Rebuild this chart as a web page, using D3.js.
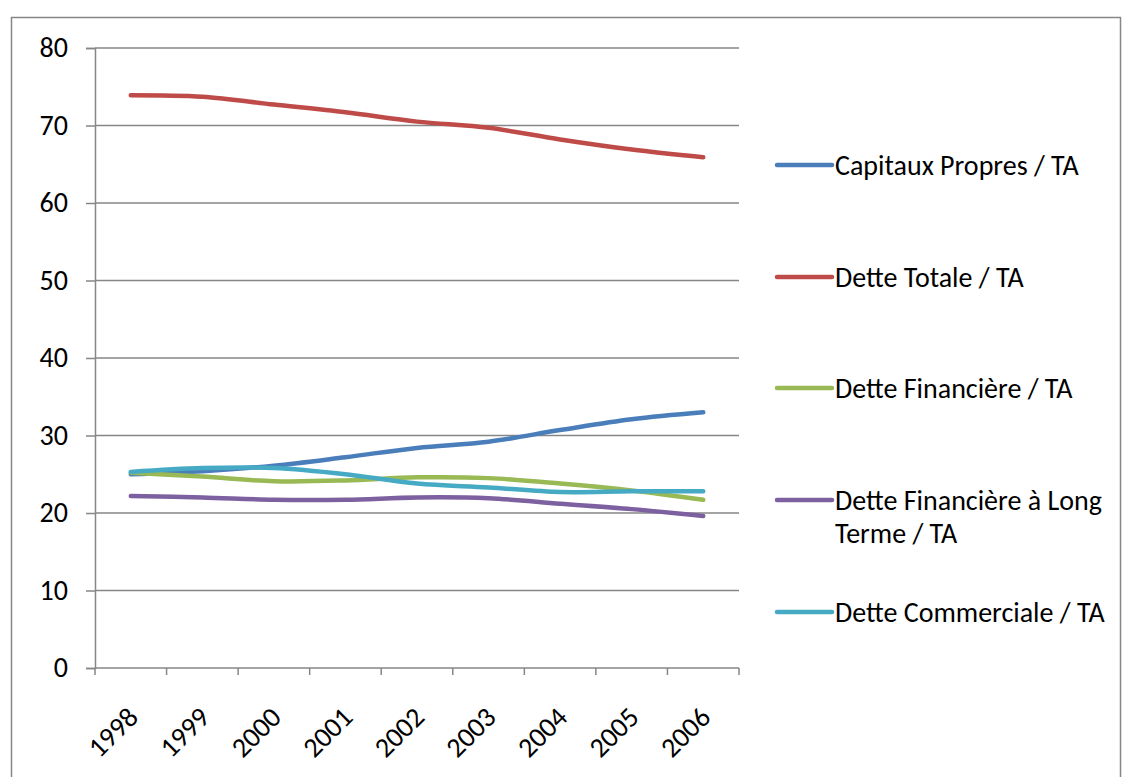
<!DOCTYPE html>
<html>
<head>
<meta charset="utf-8">
<script src="https://cdn.jsdelivr.net/npm/d3@7"></script>
<style>
  body { margin: 0; background: #fff; }
  text { font-family: Carlito, "Open Sans", "Noto Sans", sans-serif; fill: #000; }
</style>
</head>
<body>
<svg id="chart" width="1124" height="777"></svg>
<script>
// data
var years = ["1998", "1999", "2000", "2001", "2002", "2003", "2004", "2005", "2006"];
var seriesNames = ["Capitaux Propres / TA", "Dette Totale / TA", "Dette Financière / TA",
                   "Dette Financière à Long Terme / TA", "Dette Commerciale / TA"];
var capitauxPropres = [25.0, 25.4, 26.1, 27.2, 28.4, 29.2, 30.7, 32.1, 33.0];
var detteTotale = [73.9, 73.7, 72.7, 71.7, 70.5, 69.7, 68.2, 66.9, 65.9];
var detteFinanciere = [25.2, 24.7, 24.1, 24.2, 24.6, 24.5, 23.8, 22.9, 21.7];
var detteFinLT = [22.2, 22.0, 21.7, 21.7, 22.0, 21.9, 21.2, 20.5, 19.6];
var detteCommerciale = [25.3, 25.8, 25.8, 25.0, 23.8, 23.3, 22.7, 22.8, 22.8];
var yTicks = [0, 10, 20, 30, 40, 50, 60, 70, 80];
var colors = ["#4a7ebb", "#be4b48", "#98b954", "#7d60a0", "#46aac5"];

var allSeries = [capitauxPropres, detteTotale, detteFinanciere, detteFinLT, detteCommerciale];

(function () {
    var svg = d3.select("#chart");
    var plotLeft = 95, plotRight = 739, plotTop = 48, plotBottom = 668;
    var fs = "28px";

    // outer chart border
    svg.append("rect")
        .attr("x", 11.5).attr("y", 17.5)
        .attr("width", 1109).attr("height", 800)
        .attr("fill", "none").attr("stroke", "#868686").attr("stroke-width", 1.5);

    var x = d3.scaleBand().domain(years).range([plotLeft, plotRight]);
    var y = d3.scaleLinear().domain([0, 80]).range([plotBottom, plotTop]);

    // gridlines
    svg.append("g").selectAll("line")
        .data(yTicks.filter(function (d) { return d > 0; }))
        .enter().append("line")
        .attr("x1", plotLeft).attr("x2", plotRight)
        .attr("y1", function (d) { return y(d); })
        .attr("y2", function (d) { return y(d); })
        .attr("stroke", "#868686").attr("stroke-width", 1.5);

    // y axis
    var yAxis = svg.append("g")
        .attr("transform", "translate(" + plotLeft + ",0)")
        .call(d3.axisLeft(y).tickValues(yTicks).tickSize(9).tickPadding(18));
    yAxis.select(".domain").attr("stroke", "#868686").attr("stroke-width", 1.5);
    yAxis.selectAll(".tick line").attr("stroke", "#868686").attr("stroke-width", 1.5);
    yAxis.selectAll(".tick text").style("font-size", fs).attr("fill", "#000")
        .style("font-family", 'Carlito, "Open Sans", sans-serif');

    // x axis, ticks between categories
    var xg = svg.append("g").attr("transform", "translate(0," + plotBottom + ")");
    xg.append("line").attr("x1", plotLeft).attr("x2", plotRight)
        .attr("stroke", "#868686").attr("stroke-width", 1.5);
    var edges = years.map(function (d) { return x(d); }).concat([plotRight]);
    xg.selectAll("line.tk").data(edges).enter().append("line")
        .classed("tk", true)
        .attr("x1", function (d) { return d; }).attr("x2", function (d) { return d; })
        .attr("y1", 0).attr("y2", 7)
        .attr("stroke", "#868686").attr("stroke-width", 1.5);
    xg.selectAll("text").data(years).enter().append("text")
        .attr("transform", function (d) {
            return "translate(" + (x(d) + x.bandwidth() / 2 + 2) + ",44) rotate(-45)";
        })
        .attr("text-anchor", "end")
        .attr("dy", "0.35em")
        .style("font-size", fs)
        .text(function (d) { return d; });

    // lines
    var line = d3.line()
        .curve(d3.curveCardinal.tension(0))
        .x(function (d, i) { return x(years[i]) + x.bandwidth() / 2; })
        .y(function (d) { return y(d); });

    svg.append("g").selectAll("path")
        .data(allSeries)
        .enter().append("path")
        .attr("d", line)
        .attr("fill", "none")
        .attr("stroke", function (d, i) { return colors[i]; })
        .attr("stroke-width", 4.5)
        .attr("stroke-linecap", "round")
        .attr("stroke-linejoin", "round");

    // legend
    var legendY = [165, 277, 388, 500, 612];
    var leg = svg.append("g").selectAll("g")
        .data(seriesNames)
        .enter().append("g")
        .attr("transform", function (d, i) { return "translate(777," + legendY[i] + ")"; });
    leg.append("line")
        .attr("x1", 0).attr("x2", 55)
        .attr("stroke", function (d, i) { return colors[i]; })
        .attr("stroke-width", 4.5).attr("stroke-linecap", "round");
    leg.each(function (d) {
        var t = d3.select(this).append("text")
            .attr("x", 58).attr("dy", "0.35em")
            .style("font-size", fs);
        if (d.indexOf("Long") > 0) {
            t.append("tspan").attr("x", 58).text("Dette Financière à Long");
            t.append("tspan").attr("x", 58).attr("dy", "1.2em").text("Terme / TA");
        } else {
            t.text(d);
        }
    });
})();
</script>
</body>
</html>
